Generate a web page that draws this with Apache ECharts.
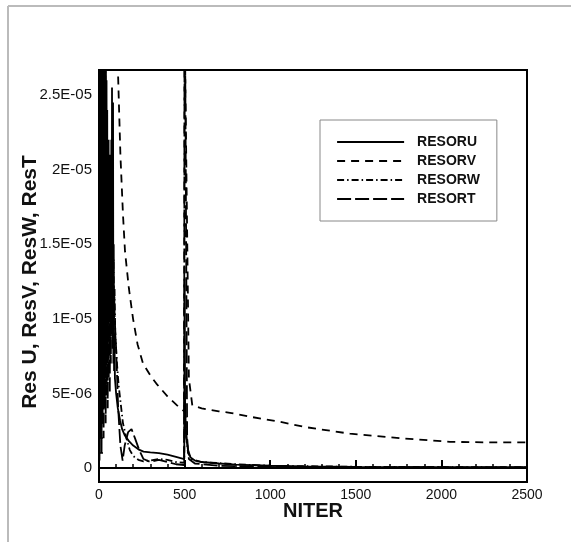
<!DOCTYPE html>
<html><head><meta charset="utf-8">
<script src="https://cdn.jsdelivr.net/npm/echarts@6/dist/echarts.min.js"></script>
<style>html,body{margin:0;padding:0;background:#fff}#c{width:571px;height:542px}</style>
</head><body><div id="c"></div><script>
// values in units of 1e-6
const seriesNames = ['RESORU', 'RESORV', 'RESORW', 'RESORT'];
const RESORU = [[0,40],[2,1],[4,36],[6,4],[8,42],[10,2],[12,34],[14,6],[16,38],[18,3],[20,31],[22,7],[24,35],[26,5],[28,29],[30,8],[32,33],[34,6],[36,27],[38,9],[40,30],[42,7],[44,26],[46,10],[48,24],[50,9],[52,20],[54,12],[56,22],[58,10],[60,18],[62,13],[64,21],[66,11],[68,17],[70,12],[72,22],[74,9],[76,25.5],[78,8],[80,19],[82,24.5],[84,7],[86,15],[88,6.5],[90,9],[93,6],[100,5],[110,4],[123,3.2],[135,2.6],[150,2.2],[175,1.8],[200,1.5],[230,1.25],[260,1.1],[300,1.05],[350,1.0],[400,0.9],[450,0.75],[498,0.6],[500,12.7],[503,4],[510,2],[520,1.2],[535,0.7],[560,0.5],[600,0.4],[700,0.3],[800,0.22],[1000,0.15],[1200,0.1],[1500,0.07],[2000,0.05],[2500,0.05]];
const RESORV = [[0,60],[60,45],[100,33],[111,26.5],[125,21],[140,17],[152,14.5],[175,12],[199,10],[225,8.3],[257,7.0],[300,6.2],[339,5.6],[400,4.8],[456,4.2],[497,3.8],[500,30],[508,30],[525,6],[545,4.2],[600,4.0],[700,3.8],[765,3.7],[900,3.4],[1057,3.1],[1200,2.75],[1466,2.3],[1758,2.0],[2050,1.75],[2250,1.72],[2500,1.72]];
const RESORW = [[1,30],[4,2],[7,28],[10,5],[13,33],[16,3],[19,27],[22,6],[25,30],[28,4],[31,24],[34,8],[37,28],[40,5],[43,22],[46,9],[49,21],[52,7],[55,18],[58,10],[61,20],[64,8],[67,16],[70,11],[73,18],[76,9],[79,15],[82,12],[85,14],[88,10],[91,12],[95,9],[105,7],[115,5.5],[130,4],[140,3],[160,2],[180,1.2],[200,0.8],[230,0.55],[260,0.45],[300,0.5],[350,0.6],[400,0.55],[450,0.4],[498,0.35],[500,5],[508,2.5],[520,1],[540,0.6],[600,0.4],[800,0.25],[1000,0.15],[1500,0.08],[2500,0.05]];
const RESORT = [[0,35],[3,0.5],[6,30],[9,2],[12,38],[15,1],[18,26],[21,3],[24,32],[27,2],[30,24],[33,4],[36,29],[39,3],[42,22],[45,5],[48,22],[51,4],[54,18],[57,6],[60,20],[63,5],[66,16],[69,7],[72,15],[76,9],[80,13],[86,12],[92,10],[100,8],[112,4],[125,1.5],[138,0.5],[150,1.5],[170,2.4],[190,2.6],[210,2.0],[235,1.2],[260,0.6],[300,0.4],[350,0.55],[400,0.4],[450,0.25],[497,0.2],[500,35],[506,35],[515,2],[525,0.6],[560,0.3],[700,0.15],[1000,0.08],[2500,0.03]];
const seriesData = [RESORU, RESORV, RESORW, RESORT];
const seriesDash = ['solid', [8, 6], [7, 3, 1.5, 3], [14, 4]];

const xMin = 0, xMax = 2500, xInterval = 500;
const yMin = -0.94, yMax = 26.68;
const yTickValues = [0, 5, 10, 15, 20, 25];
const yTickLabels = ['0', '5E-06', '1E-05', '1.5E-05', '2E-05', '2.5E-05'];
const yMinorValues = [1,2,3,4,6,7,8,9,11,12,13,14,16,17,18,19,21,22,23,24,26];
const xName = 'NITER';
const yName = 'Res U, ResV, ResW, ResT';

const FONT = 'Liberation Sans, Arial, sans-serif';
const chart = echarts.init(document.getElementById('c'), null, {renderer: 'canvas'});
chart.setOption({
  animation: false,
  backgroundColor: '#fff',
  graphic: [
    {type: 'line', shape: {x1: 8, y1: 6, x2: 571, y2: 6}, style: {stroke: '#bbb', lineWidth: 2}},
    {type: 'line', shape: {x1: 8, y1: 6, x2: 8, y2: 542}, style: {stroke: '#bbb', lineWidth: 2}}
  ],
  grid: {left: 99, right: 44, top: 70, bottom: 60, show: true, borderColor: '#000', borderWidth: 2, backgroundColor: 'transparent'},
  legend: {
    data: seriesNames, orient: 'vertical', left: 320, top: 120,
    itemWidth: 67, itemHeight: 14, itemGap: 5, padding: [15, 17, 15, 16],
    borderColor: '#888', borderWidth: 1, selectedMode: false,
    itemStyle: {opacity: 0, borderWidth: 0},
    lineStyle: {width: 2.2},
    textStyle: {fontFamily: FONT, fontWeight: 'bold', fontSize: 14, color: '#111', padding: [0, 0, 0, 8]}
  },
  xAxis: {
    type: 'value', min: xMin, max: xMax, interval: xInterval,
    name: xName, nameLocation: 'middle', nameGap: 19, nameMoveOverlap: false,
    nameTextStyle: {fontFamily: FONT, fontWeight: 'bold', fontSize: 20, color: '#111'},
    axisLine: {lineStyle: {color: '#000', width: 2}},
    axisTick: {inside: true, length: 8, lineStyle: {color: '#000', width: 2}},
    minorTick: {show: true, splitNumber: 5, length: 4, lineStyle: {color: '#000', width: 1.5}},
    axisLabel: {fontFamily: FONT, fontSize: 14, color: '#111', margin: 6, formatter: v => String(v)},
    splitLine: {show: false}
  },
  yAxis: [{
    type: 'value', min: yMin, max: yMax,
    name: yName, nameLocation: 'middle', nameGap: 58, nameMoveOverlap: false,
    nameTextStyle: {fontFamily: FONT, fontWeight: 'bold', fontSize: 21, color: '#111', padding: [0, 12, 0, 0]},
    axisLine: {lineStyle: {color: '#000', width: 2}},
    axisTick: {inside: true, length: 8, customValues: yTickValues, lineStyle: {color: '#000', width: 2}},
    axisLabel: {customValues: yTickValues, fontFamily: FONT, fontSize: 15, color: '#111', margin: 7,
      formatter: v => yTickLabels[yTickValues.indexOf(Math.round(v * 100) / 100)] ?? ''},
    splitLine: {show: false}
  }, {
    type: 'value', min: yMin, max: yMax, position: 'left',
    axisLine: {show: false},
    axisTick: {inside: true, length: 4, customValues: yMinorValues, lineStyle: {color: '#000', width: 1.5}},
    axisLabel: {show: false},
    splitLine: {show: false}
  }],
  series: seriesNames.map((n, i) => ({
    name: n, type: 'line', data: seriesData[i], showSymbol: false, symbol: 'none',
    clip: true,
    lineStyle: {color: '#000', width: 1.8, type: seriesDash[i]},
    itemStyle: {color: '#000'}
  }))
});
</script></body></html>
